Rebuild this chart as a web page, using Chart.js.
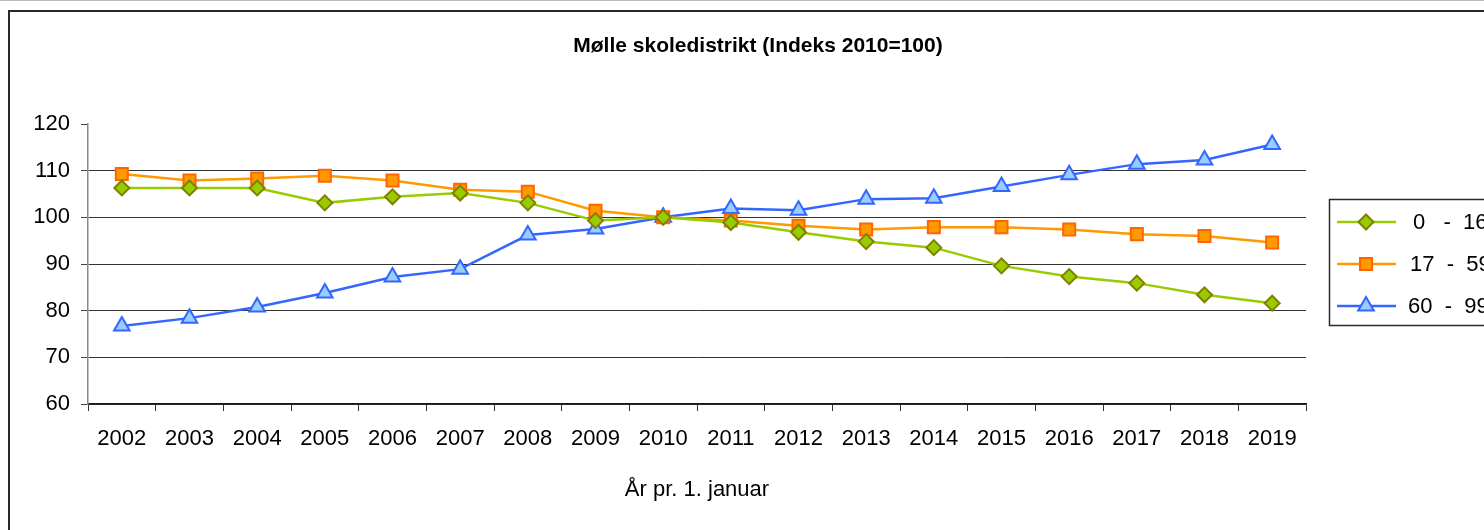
<!DOCTYPE html>
<html>
<head>
<meta charset="utf-8">
<script src="https://cdn.jsdelivr.net/npm/chart.js@4/dist/chart.umd.min.js"></script>
<style>
    html, body { margin: 0; padding: 0; background: #fff; overflow: hidden; }
    body { width: 1484px; height: 530px; position: relative; }
    .topline { position: absolute; left: 0; top: 0; width: 1484px; height: 1px; background: #bbb; }
    .frame { position: absolute; left: 8px; top: 10px; width: 1600px; height: 600px; border: 2px solid #2a2a2a; box-sizing: border-box; }
    #chart { position: absolute; left: 0; top: 0; }
</style>
</head>
<body>
<div class="topline"></div>
<div class="frame"></div>
<canvas id="chart" width="1560" height="530"></canvas>
<script>
// Data
const years = ['2002', '2003', '2004', '2005', '2006', '2007', '2008', '2009', '2010',
    '2011', '2012', '2013', '2014', '2015', '2016', '2017', '2018', '2019'];
const age0to16 = [106.3, 106.3, 106.3, 103.1, 104.4, 105.2, 103.1, 99.3, 100,
    98.9, 96.8, 94.8, 93.5, 89.6, 87.3, 85.9, 83.4, 81.6];
const age17to59 = [109.3, 107.9, 108.3, 108.9, 107.9, 105.9, 105.5, 101.4, 100,
    99.3, 98.2, 97.4, 97.9, 97.9, 97.4, 96.4, 96.0, 94.6];
const age60to99 = [76.7, 78.4, 80.8, 83.8, 87.2, 88.9, 96.2, 97.5, 100,
    101.9, 101.5, 103.9, 104.1, 106.6, 109.1, 111.4, 112.3, 115.6];
const seriesLabels = ['0   -  16 år', '17  -  59 år', '60  -  99 år'];
const yTicks = [60, 70, 80, 90, 100, 110, 120];

const chartTitle = 'Mølle skoledistrikt (Indeks 2010=100)';
const xTitle = 'År pr. 1. januar';

const FONT = '"Liberation Sans", Arial, sans-serif';
Chart.defaults.font.family = FONT;
Chart.defaults.color = '#000';

// Title drawn centred over the whole frame
const titlePlugin = {
    id: 'frameTitle',
    afterDraw(chart) {
        const ctx = chart.ctx;
        ctx.save();
        ctx.font = 'bold 21px ' + FONT;
        ctx.fillStyle = '#000';
        ctx.textAlign = 'center';
        ctx.textBaseline = 'middle';
        ctx.fillText(chartTitle, 758, 46);
        ctx.restore();
    }
};

// Boxed legend on the right, cut by the page edge like the reference
const legendTextX = [1413, 1410, 1408];
const boxLegend = {
    id: 'boxLegend',
    afterDraw(chart) {
        const ctx = chart.ctx;
        ctx.save();
        ctx.strokeStyle = '#2a2a2a';
        ctx.lineWidth = 1.5;
        ctx.strokeRect(1329.5, 199.5, 400, 126);
        chart.data.datasets.forEach((ds, i) => {
            const y = 222 + i * 42;
            ctx.strokeStyle = ds.borderColor;
            ctx.lineWidth = ds.borderWidth;
            ctx.beginPath();
            ctx.moveTo(1337, y);
            ctx.lineTo(1396, y);
            ctx.stroke();
            ctx.fillStyle = ds.pointBackgroundColor;
            ctx.strokeStyle = ds.pointBorderColor;
            ctx.lineWidth = ds.pointBorderWidth;
            Chart.helpers.drawPoint(ctx, {
                pointStyle: ds.pointStyle, radius: ds.pointRadius,
                borderWidth: ds.pointBorderWidth, rotation: 0
            }, 1366, y);
            ctx.fillStyle = '#000';
            ctx.font = '22px ' + FONT;
            ctx.textAlign = 'left';
            ctx.textBaseline = 'middle';
            ctx.fillText(ds.label, legendTextX[i], y + 1);
        });
        ctx.restore();
    }
};

new Chart(document.getElementById('chart'), {
    type: 'line',
    data: {
        labels: years,
        datasets: [{
            label: seriesLabels[0],
            data: age0to16,
            borderColor: '#99cc00',
            borderWidth: 2.5,
            pointStyle: 'rectRot',
            pointRadius: 7.5,
            pointBackgroundColor: '#99cc00',
            pointBorderColor: '#808000',
            pointBorderWidth: 2
        }, {
            label: seriesLabels[1],
            data: age17to59,
            borderColor: '#ff9900',
            borderWidth: 2.5,
            pointStyle: 'rect',
            pointRadius: 8.5,
            pointBackgroundColor: '#ff9900',
            pointBorderColor: '#ff6600',
            pointBorderWidth: 2
        }, {
            label: seriesLabels[2],
            data: age60to99,
            borderColor: '#3366ff',
            borderWidth: 2.5,
            pointStyle: 'triangle',
            pointRadius: 9,
            pointBackgroundColor: '#99ccff',
            pointBorderColor: '#3366ff',
            pointBorderWidth: 2
        }]
    },
    options: {
        responsive: false,
        animation: false,
        clip: false,
        layout: { padding: { left: 0, right: 254, top: 124, bottom: 27 } },
        elements: { line: { tension: 0 } },
        plugins: {
            legend: { display: false },
            title: { display: false },
            tooltip: { enabled: false }
        },
        scales: {
            x: {
                type: 'category',
                offset: true,
                afterFit: (scale) => { scale.height = 99; },
                grid: {
                    offset: true,
                    drawOnChartArea: false,
                    tickLength: 7,
                    tickColor: '#333'
                },
                border: { color: '#1a1a1a', width: 1.5 },
                ticks: { font: { size: 22 }, padding: 15, maxRotation: 0, autoSkip: false },
                title: {
                    display: true,
                    text: xTitle,
                    font: { size: 22 },
                    padding: 0
                }
            },
            y: {
                min: 60,
                max: 120,
                afterFit: (scale) => { scale.width = 88; },
                afterBuildTicks: (scale) => { scale.ticks = yTicks.map(v => ({ value: v })); },
                grid: {
                    color: (c) => (c.tick && c.tick.value === 120) ? 'rgba(0,0,0,0)' : '#333',
                    tickColor: '#444',
                    tickLength: 7,
                    lineWidth: 1
                },
                border: { color: '#888', width: 1.5 },
                ticks: { font: { size: 22 }, padding: 11 }
            }
        }
    },
    plugins: [titlePlugin, boxLegend]
});
</script>
</body>
</html>
